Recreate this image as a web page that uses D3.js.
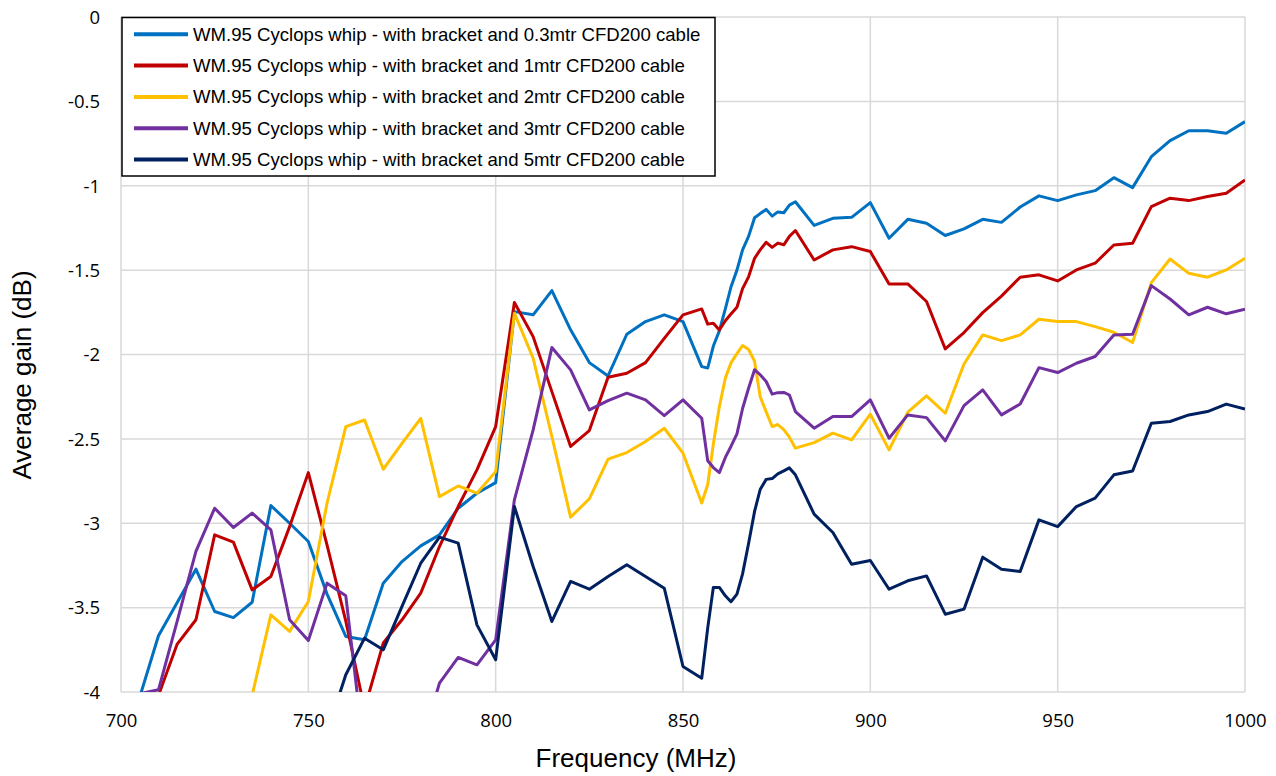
<!DOCTYPE html>
<html>
<head>
<meta charset="utf-8">
<script src="https://cdn.jsdelivr.net/npm/d3@7"></script>
<style>
  body { margin: 0; background: #ffffff; }
</style>
</head>
<body>
<svg id="chart" width="1276" height="776"></svg>
<script>
// frequencies (MHz): 5 MHz steps, denser sampling 855-880
var freqs = [
  700, 705, 710, 715, 720, 725, 730, 735, 740, 745, 750, 755, 760, 765, 770, 775,
  780, 785, 790, 795, 800, 805, 810, 815, 820, 825, 830, 835, 840, 845, 850,
  855, 856.6, 858.1, 859.7, 861.3, 862.8, 864.4, 865.9, 867.5, 869.1, 870.6, 872.2, 873.8, 875.3, 876.9, 878.4, 880,
  885, 890, 895, 900, 905, 910, 915, 920, 925, 930, 935, 940, 945, 950, 955, 960, 965, 970, 975, 980, 985, 990, 995, 1000
];

var gain03 = [
  null, -4.03, -3.667, -3.47, -3.272, -3.523, -3.559, -3.468, -2.895, -3.0, -3.108, -3.42, -3.671, -3.69, -3.355, -3.227,
  -3.134, -3.069, -2.911, -2.822, -2.759, -1.746, -1.765, -1.621, -1.854, -2.048, -2.127, -1.88, -1.805, -1.765, -1.805,
  -2.072, -2.08, -1.95, -1.86, -1.73, -1.6, -1.5, -1.38, -1.3, -1.19, -1.165, -1.14, -1.18, -1.155, -1.16, -1.115, -1.095,
  -1.235, -1.193, -1.187, -1.1, -1.311, -1.199, -1.222, -1.295, -1.256, -1.199, -1.217, -1.126, -1.06, -1.088, -1.054, -1.029, -0.952, -1.011, -0.828, -0.733, -0.674, -0.674, -0.689, -0.62
];

var gain1 = [
  null, null, -4.02, -3.716, -3.572, -3.069, -3.112, -3.395, -3.316, -3.02, -2.7, -3.13, -3.58, -4.1, -3.71, -3.572,
  -3.414, -3.138, -2.901, -2.684, -2.427, -1.692, -1.894, -2.22, -2.545, -2.451, -2.135, -2.111, -2.048, -1.904, -1.765,
  -1.73, -1.82, -1.815, -1.855, -1.8, -1.76, -1.72, -1.61, -1.54, -1.43, -1.38, -1.335, -1.365, -1.34, -1.35, -1.3, -1.265,
  -1.44, -1.38, -1.361, -1.39, -1.582, -1.582, -1.686, -1.967, -1.87, -1.752, -1.654, -1.542, -1.528, -1.564, -1.499, -1.459, -1.351, -1.341, -1.124, -1.074, -1.088, -1.064, -1.045, -0.966
];

var gain2 = [
  null, null, null, null, null, null, null, -4.02, -3.543, -3.641, -3.464, -2.88, -2.427, -2.388, -2.68, -2.526,
  -2.378, -2.842, -2.779, -2.822, -2.694, -1.755, -2.022, -2.486, -2.964, -2.855, -2.62, -2.581, -2.516, -2.437, -2.585,
  -2.88, -2.77, -2.53, -2.31, -2.14, -2.05, -1.995, -1.947, -1.97, -2.04, -2.25, -2.34, -2.427, -2.415, -2.445, -2.49, -2.555,
  -2.522, -2.466, -2.506, -2.354, -2.565, -2.342, -2.245, -2.348, -2.056, -1.884, -1.918, -1.884, -1.791, -1.805, -1.805, -1.835, -1.868, -1.929, -1.574, -1.434, -1.519, -1.542, -1.499, -1.43
];

var gain3 = [
  null, -4.01, -3.987, -3.58, -3.167, -2.911, -3.025, -2.94, -3.039, -3.572, -3.695, -3.355, -3.43, -4.38, -4.5, -4.5,
  -4.33, -3.947, -3.795, -3.839, -3.691, -2.861, -2.447, -1.959, -2.091, -2.328, -2.273, -2.229, -2.269, -2.362, -2.269,
  -2.378, -2.63, -2.67, -2.7, -2.61, -2.545, -2.47, -2.32, -2.2, -2.09, -2.12, -2.16, -2.235, -2.226, -2.225, -2.24, -2.338,
  -2.437, -2.368, -2.368, -2.269, -2.496, -2.358, -2.374, -2.512, -2.303, -2.21, -2.358, -2.293, -2.078, -2.107, -2.052, -2.012, -1.884, -1.88, -1.592, -1.671, -1.765, -1.72, -1.759, -1.732
];

var gain5 = [
  null, null, null, null, null, null, null, null, null, null, null, -4.24, -3.898, -3.681, -3.75, -3.493,
  -3.237, -3.082, -3.118, -3.602, -3.809, -2.901, -3.256, -3.582, -3.345, -3.391, -3.316, -3.246, -3.316, -3.385, -3.849,
  -3.918, -3.62, -3.38, -3.38, -3.43, -3.465, -3.42, -3.3, -3.12, -2.93, -2.8, -2.74, -2.735, -2.707, -2.69, -2.672, -2.713,
  -2.946, -3.055, -3.243, -3.221, -3.391, -3.341, -3.312, -3.539, -3.509, -3.201, -3.272, -3.286, -2.98, -3.02, -2.901, -2.851, -2.713, -2.69, -2.407, -2.397, -2.358, -2.338, -2.294, -2.324
];

var seriesNames = [
  "WM.95 Cyclops whip - with bracket and 0.3mtr CFD200 cable",
  "WM.95 Cyclops whip - with bracket and 1mtr CFD200 cable",
  "WM.95 Cyclops whip - with bracket and 2mtr CFD200 cable",
  "WM.95 Cyclops whip - with bracket and 3mtr CFD200 cable",
  "WM.95 Cyclops whip - with bracket and 5mtr CFD200 cable"
];
var seriesValues = [gain03, gain1, gain2, gain3, gain5];
var seriesColors = ["#0070C0", "#C00000", "#FFC000", "#7030A0", "#002060"];

var xTicks = [700, 750, 800, 850, 900, 950, 1000];
var yTicks = [0, -0.5, -1, -1.5, -2, -2.5, -3, -3.5, -4];

// plot area edges (plotTop, not top: window.top is taken)
var plotLeft = 121, plotRight = 1245, plotTop = 17, plotBottom = 692;
var tickFont = "'Open Sans', 'Noto Sans', sans-serif";
var textFont = "'Liberation Sans', Arial, sans-serif";

var canvas = d3.select("#chart");

var x = d3.scaleLinear().domain([700, 1000]).range([plotLeft, plotRight]);
var y = d3.scaleLinear().domain([-4, 0]).range([plotBottom, plotTop]);

/*
Gridlines, both directions, light grey like excel
*/
canvas.append("g")
  .attr("class", "grid")
  .selectAll("line")
  .data(yTicks)
  .enter()
  .append("line")
  .attr("x1", plotLeft)
  .attr("x2", plotRight)
  .attr("y1", function(d){return y(d);})
  .attr("y2", function(d){return y(d);})
  .style("stroke", "#d9d9d9")
  .style("stroke-width", 1.5);

canvas.append("g")
  .attr("class", "grid")
  .selectAll("line")
  .data(xTicks)
  .enter()
  .append("line")
  .attr("x1", function(d){return x(d);})
  .attr("x2", function(d){return x(d);})
  .attr("y1", plotTop)
  .attr("y2", plotBottom)
  .style("stroke", "#d9d9d9")
  .style("stroke-width", 1.5);

/*
Axes: labels only, the lines come from the grid
*/
var yAxis = canvas.append("g")
  .attr("transform", "translate(" + (plotLeft - 21) + ",0)")
  .call(d3.axisLeft(y).tickValues(yTicks).tickSize(0).tickPadding(0).tickFormat(function(d){return String(d);}));
yAxis.select(".domain").remove();
yAxis.selectAll("text")
  .style("font-family", tickFont)
  .style("font-size", "18.5px")
  .style("fill", "#000")
  .attr("dy", "0.34em");

var xAxis = canvas.append("g")
  .attr("transform", "translate(0," + plotBottom + ")")
  .call(d3.axisBottom(x).tickValues(xTicks).tickSize(0).tickPadding(0).tickFormat(function(d){return String(d);}));
xAxis.select(".domain").remove();
xAxis.selectAll("text")
  .style("font-family", tickFont)
  .style("font-size", "18.5px")
  .style("fill", "#000")
  .attr("y", 35)
  .attr("dy", 0);

/*
Series lines, clipped to the plot area
*/
canvas.append("clipPath")
  .attr("id", "plotClip")
  .append("rect")
  .attr("x", plotLeft)
  .attr("y", plotTop)
  .attr("width", plotRight - plotLeft)
  .attr("height", plotBottom - plotTop);

var line = d3.line()
  .defined(function(d){return d[1] != null;})
  .x(function(d){return x(d[0]);})
  .y(function(d){return y(d[1]);});

canvas.append("g")
  .attr("clip-path", "url(#plotClip)")
  .selectAll("path")
  .data(seriesValues)
  .enter()
  .append("path")
  .attr("d", function(vals){
    return line(freqs.map(function(f, i){return [f, vals[i]];}));
  })
  .style("fill", "none")
  .style("stroke", function(d, i){return seriesColors[i];})
  .style("stroke-width", 3)
  .style("stroke-linejoin", "round");

/*
Legend box in the top left of the plot
*/
var legend = canvas.append("g").attr("class", "legend");
legend.append("rect")
  .attr("x", 122)
  .attr("y", 17.5)
  .attr("width", 593)
  .attr("height", 158.5)
  .style("fill", "white")
  .style("stroke", "black")
  .style("stroke-width", 1.5);

var rows = legend.selectAll(".row")
  .data(seriesNames)
  .enter()
  .append("g")
  .attr("class", "row")
  .attr("transform", function(d, i){return "translate(0," + (34.3 + i * 31.3) + ")";});

rows.append("line")
  .attr("x1", 134)
  .attr("x2", 188)
  .style("stroke", function(d, i){return seriesColors[i];})
  .style("stroke-width", 4);

rows.append("text")
  .text(function(d){return d;})
  .attr("x", 193)
  .attr("dy", "0.35em")
  .style("font-family", textFont)
  .style("font-size", "18.6px");

/*
Axis titles
*/
canvas.append("text")
  .text("Frequency (MHz)")
  .attr("x", 636)
  .attr("y", 767)
  .attr("text-anchor", "middle")
  .style("font-family", textFont)
  .style("font-size", "26px");

canvas.append("text")
  .text("Average gain (dB)")
  .attr("transform", "translate(31,375) rotate(-90)")
  .attr("text-anchor", "middle")
  .style("font-family", textFont)
  .style("font-size", "26px");
</script>
</body>
</html>
